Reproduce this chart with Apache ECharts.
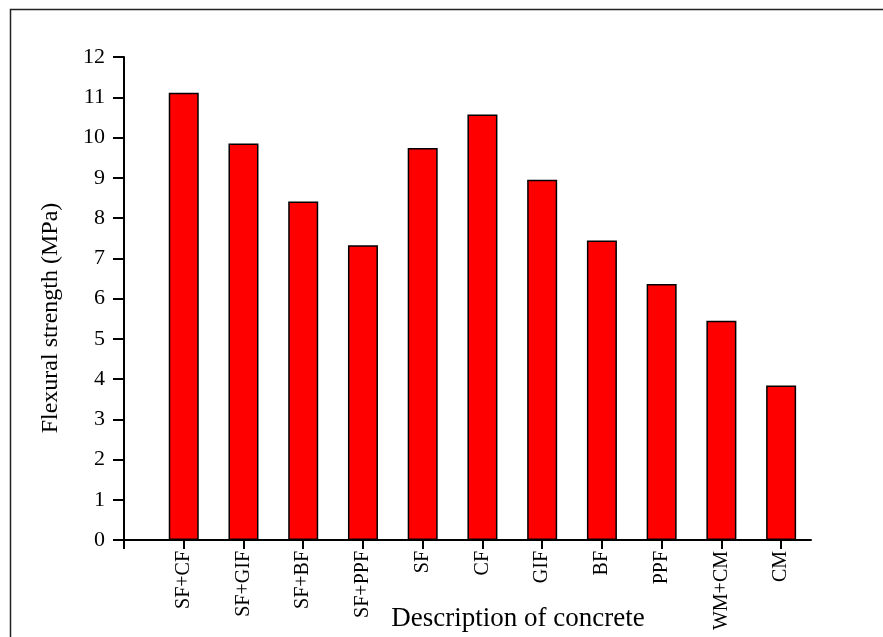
<!DOCTYPE html>
<html>
<head>
<meta charset="utf-8">
<script src="https://cdn.jsdelivr.net/npm/echarts@6/dist/echarts.min.js"></script>
<style>
  html, body { margin: 0; padding: 0; background: #fff; }
  #chart { width: 883px; height: 637px; }
</style>
</head>
<body>
<div id="chart"></div>
<script>
// Concrete mixes and their flexural strength (MPa)
const categories = ['SF+CF', 'SF+GIF', 'SF+BF', 'SF+PPF', 'SF', 'CF', 'GIF', 'BF', 'PPF', 'WM+CM', 'CM'];
const flexuralStrength = [11.11, 9.85, 8.41, 7.32, 9.74, 10.57, 8.95, 7.44, 6.36, 5.45, 3.84];
const yTicks = [0, 1, 2, 3, 4, 5, 6, 7, 8, 9, 10, 11, 12];

const FONT = '"Liberation Serif", "Times New Roman", serif';

// Bars sit at positions 1..n on a numeric x axis that starts at 0
const positions = categories.map((_, i) => i + 1);
const barData = categories.map((_, i) => [positions[i], flexuralStrength[i]]);

const chart = echarts.init(document.getElementById('chart'), null, { renderer: 'canvas' });

chart.setOption({
  backgroundColor: '#ffffff',
  animation: false,
  grid: { left: 124, right: 72, top: 57, bottom: 97, containLabel: false },
  xAxis: {
    type: 'value',
    min: 0,
    max: 11.5,
    interval: 1,
    splitLine: { show: false },
    axisLine: { show: true, lineStyle: { color: '#000', width: 2 } },
    axisTick: {
      show: true, inside: false, length: 9,
      customValues: [0].concat(positions),
      lineStyle: { color: '#000', width: 2 }
    },
    axisLabel: {
      show: true,
      customValues: positions,
      rotate: 90,
      margin: 11,
      color: '#000',
      fontFamily: FONT,
      fontSize: 20,
      formatter: v => categories[Math.round(v) - 1] || ''
    }
  },
  yAxis: {
    type: 'value',
    min: yTicks[0],
    max: yTicks[yTicks.length - 1],
    interval: 1,
    splitLine: { show: false },
    axisLine: { show: true, lineStyle: { color: '#000', width: 2 } },
    axisTick: { show: true, inside: false, length: 11, lineStyle: { color: '#000', width: 2 } },
    axisLabel: { color: '#000', fontFamily: FONT, fontSize: 22, margin: 19 }
  },
  series: [{
    type: 'bar',
    data: barData,
    barWidth: 30,
    itemStyle: { color: '#ff0000', borderColor: '#000', borderWidth: 1.5 }
  }],
  graphic: [
    {
      type: 'rect',
      left: 8, top: 7,
      shape: { width: 900, height: 700 },
      style: { fill: 'none', stroke: '#222', lineWidth: 1.5 },
      silent: true
    },
    {
      type: 'text',
      x: 518, y: 619,
      style: {
        text: 'Description of concrete',
        fontFamily: FONT, fontSize: 27, fill: '#000',
        textAlign: 'center', textVerticalAlign: 'middle'
      }
    },
    {
      type: 'text',
      x: 51, y: 318,
      rotation: Math.PI / 2,
      style: {
        text: 'Flexural strength (MPa)',
        fontFamily: FONT, fontSize: 24, fill: '#000',
        textAlign: 'center', textVerticalAlign: 'middle'
      }
    }
  ]
});
</script>
</body>
</html>
